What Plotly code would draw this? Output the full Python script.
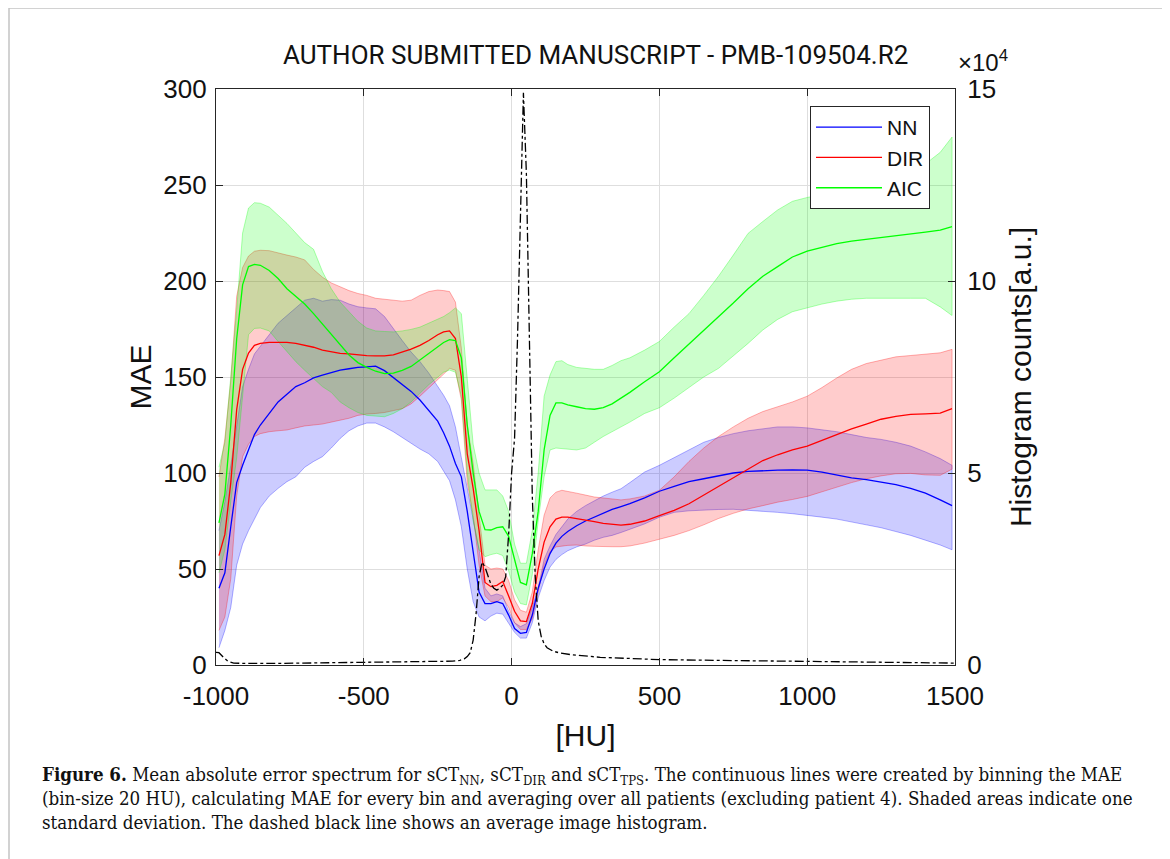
import plotly.graph_objects as go

# ---------------- data ----------------
hu = [-990, -970, -950, -930, -910, -890, -870, -850, -820, -790, -760, -730, -700, -670, -640,
      -610, -580, -550, -520, -490, -460, -430, -400, -370, -340, -310, -280, -250, -230, -210,
      -190, -170, -150, -130, -110, -90, -70, -50, -30, -10, 10, 30, 50, 70, 90, 110, 130, 150,
      170, 190, 220, 250, 280, 310, 340, 370, 400, 450, 500, 550, 600, 650, 700, 750, 800, 850,
      900, 950, 1000, 1050, 1100, 1150, 1200, 1250, 1300, 1350, 1400, 1450, 1490]

nn_mean = [40, 48, 72, 95, 104, 112, 120, 125, 131, 137, 141, 145, 147, 149.5, 151,
           152.5, 153.6, 154.3, 155, 155.3, 155.7, 153.3, 149.8, 146, 142.5, 138, 132.5, 127, 121, 114,
           105, 98, 80, 58, 38, 32, 32, 33, 32, 26, 19, 16.5, 17, 26, 40, 50, 58, 63.5,
           67, 69.5, 72.5, 75, 77, 79, 81, 82.5, 84, 87, 90.5, 93, 95.5, 97, 98.5, 100, 100.8, 101.3,
           101.5, 101.6, 101.5, 100.5, 98.8, 97.5, 96.5, 95.3, 94, 92, 89.5, 86, 83]
nn_upper = [70, 85, 104, 125, 145, 154, 162, 166, 172, 178, 182, 186, 190, 191, 189.5,
            190.3, 190, 188, 186.6, 186, 185.5, 181.5, 175, 169, 163, 158, 152, 145, 140.5, 135,
            124, 108, 92, 78, 60, 40, 36, 37, 36, 28, 22, 20, 21.5, 30, 40, 55, 62, 68,
            72, 76, 80, 83, 85.5, 88, 90, 91.8, 95, 100.5, 104, 108, 112, 116, 118.5, 120.5, 122, 123,
            124, 124, 123.5, 122.5, 121.5, 120, 118.5, 117.5, 116, 114, 111, 107.5, 104]
nn_lower = [9, 18, 30, 52, 63, 70, 76, 82, 88, 92, 95.5, 98, 103, 106, 108.5,
            113, 118, 122, 124.5, 126, 126, 124, 121.5, 118.5, 115.5, 112.5, 110, 106, 101, 96,
            86, 72, 50, 33, 25, 23, 25.5, 27, 26.5, 22, 17, 14, 14, 22, 35, 44, 51, 55,
            57.5, 59.5, 61.5, 63, 65, 66.5, 67.5, 69, 70.5, 73.5, 77, 79.5, 80.3, 80.7, 81, 81.1, 80.5, 80,
            79.5, 78.8, 78, 77, 76, 74.7, 73, 71.5, 69.5, 67.5, 65, 62.5, 60]

dir_mean = [57, 68, 95, 133, 154, 162.5, 166.5, 167.5, 168, 168, 168, 167.5, 166.5, 165.5, 164,
            163, 162.3, 162, 161.5, 161.1, 161, 161, 161.5, 162.8, 164.5, 166.5, 169, 172, 173.5, 174,
            170, 150, 110, 92, 70, 43, 40.8, 41.5, 43.5, 36, 28, 23, 22.6, 32, 50, 64, 72, 76,
            77, 77, 76.3, 75.5, 74.7, 73.8, 73.3, 72.9, 73.3, 75, 77.8, 80.5, 84, 88.5, 93, 97.5, 102, 106.5,
            109.5, 112, 114, 117, 120, 123, 125.5, 128, 129.5, 130.5, 130.8, 131.2, 133.5]
dir_upper = [98, 118, 148, 192, 207, 213, 215.5, 216, 215.8, 214.5, 213.5, 212.5, 211, 206, 202,
             199, 197, 195, 193.5, 192.5, 191, 190.5, 190, 189.5, 190, 192.5, 194.5, 195.3, 195, 194.5,
             189, 165, 125, 105, 78, 52, 50, 50.5, 50, 44, 34, 28.5, 27.5, 38, 60, 78, 87, 90,
             91, 90.5, 89.5, 88.5, 87.5, 87, 86.5, 86, 86.5, 88, 91, 98, 106, 113, 119, 124, 128.5, 132,
             134.5, 137, 140, 144.5, 149.5, 154, 157, 158.8, 160.5, 161.2, 162, 162.6, 164.4]
dir_lower = [18, 25, 45, 88, 108.5, 115, 119, 120.5, 121.5, 122, 122.4, 123.5, 124.5, 125, 125.5,
             126.5, 127.5, 128.5, 130, 130.7, 131, 131.5, 132.5, 133.5, 136, 140, 144, 148.5, 151.5, 154.5,
             153.5, 138, 95, 78, 52, 36, 33, 33, 35, 30, 22, 18.5, 18.5, 24, 38, 52, 59, 61.5,
             62, 62.3, 62.5, 62, 61.8, 61.6, 61.6, 61.6, 62, 63.5, 65.5, 67.5, 70, 73, 76.3, 79, 81.3, 83,
             84.8, 86.2, 87.8, 90, 92.5, 95, 97, 98.5, 99.6, 99.8, 99, 98.8, 102]

aic_mean = [74, 89, 125, 170, 198, 207.5, 208.7, 208.2, 205.5, 201.3, 196, 192, 188, 183, 177.5,
            172, 166.5, 161.5, 157.5, 155, 153, 151.8, 152, 153.5, 155.5, 159, 162.5, 166, 168, 169.5,
            169, 160, 125, 100, 80, 70.5, 70.3, 71.5, 72, 67, 55, 43, 41.7, 58, 80, 112, 130, 136.5,
            136.5, 135.5, 134.5, 133.5, 133.2, 134, 136, 139, 142, 147.5, 152.7, 160, 167, 174, 181, 188.5, 196, 202.5,
            207.5, 212.5, 215.5, 217.7, 219.5, 220.8, 221.7, 222.6, 223.5, 224.3, 225.5, 226.5, 228.3]
aic_upper = [103, 116, 150, 185, 225, 238, 240.8, 240.5, 238.5, 234.5, 230, 225, 220, 216.5, 205,
             196, 189, 184, 179, 175.5, 174, 173.7, 173.5, 174, 174.8, 176, 178, 180, 181.5, 183.5,
             186, 183, 150, 115, 100, 91.2, 91.2, 91.2, 88, 80, 63, 53, 53, 70, 100, 140, 151, 158,
             158.5, 156.5, 155, 154.5, 154, 154, 156, 158.5, 160, 164, 168.5, 176, 183, 192.5, 202.5, 213.5, 224.8, 231,
             237, 241.5, 243.5, 245, 245.7, 246.5, 248, 250, 252.5, 256, 261, 267, 275]
aic_lower = [48, 60, 85, 108, 140, 172, 175.3, 175.5, 174, 168.5, 163, 158, 153.5, 149, 145,
             142, 137, 134, 131.5, 130, 129.5, 129.3, 131, 133.5, 137, 141.5, 146, 150, 152.5, 153.6,
             152.5, 140, 100, 75, 60, 56.4, 57.5, 58.2, 57, 49, 38, 32, 31.3, 47, 75, 98, 112, 113,
             113, 112.5, 112, 113, 116, 119, 121.5, 124, 126.5, 131, 134, 139, 144.5, 150, 154.5, 161, 167.5, 174.5,
             180, 184, 186, 188, 189.5, 190.5, 191, 191, 191, 191, 191, 186.5, 182]

hist_hu = [-1000, -990, -975, -960, -940, -900, -800, -700, -600, -500, -400, -300, -250, -200,
           -175, -160, -150, -140, -130, -120, -110, -100, -90, -80, -70, -60, -50, -40, -30, -20,
           -10, 0, 10, 20, 30, 40, 50, 60, 70, 80, 90, 100, 110, 120, 140, 160, 200, 300, 400, 500,
           700, 1000, 1300, 1500]
hist_counts = [3300, 3200, 2000, 1000, 500, 400, 400, 500, 500, 600, 700, 800, 900, 1000,
               1200, 1600, 2200, 3200, 6500, 13500, 23000, 26800, 25500, 23500, 21000, 20000, 19500, 20000, 20800, 23000,
               34000, 50000, 59000, 85000, 115000, 149000, 128000, 80000, 44000, 23000, 11500, 7500, 5500, 4500, 3600, 3200, 2700, 2000, 1700, 1400,
               1200, 1000, 700, 500]

x_ticks = [-1000, -500, 0, 500, 1000, 1500]
x_tick_labels = ["-1000", "-500", "0", "500", "1000", "1500"]
y_ticks = [0, 50, 100, 150, 200, 250, 300]
y2_ticks = [0, 50000, 100000, 150000]
y2_tick_labels = ["0", "5", "10", "15"]

caption_lines = [
    "<b>Figure 6.</b> Mean absolute error spectrum for sCT<sub>NN</sub>, sCT<sub>DIR</sub> and sCT<sub>TPS</sub>. "
    "The continuous lines were created by binning the MAE",
    "(bin-size 20 HU), calculating MAE for every bin and averaging over all patients (excluding patient 4). "
    "Shaded areas indicate one",
    "standard deviation. The dashed black line shows an average image histogram.",
]

series = [
    ("NN", nn_mean, nn_upper, nn_lower, (0, 0, 255)),
    ("DIR", dir_mean, dir_upper, dir_lower, (255, 0, 0)),
    ("AIC", aic_mean, aic_upper, aic_lower, (0, 255, 0)),
]

fig = go.Figure()

for name, mean, up, lo, (r, g, b) in series:
    fig.add_trace(go.Scatter(
        x=hu + hu[::-1], y=up + lo[::-1], fill="toself",
        fillcolor=f"rgba({r},{g},{b},0.2)",
        line=dict(color=f"rgba({r},{g},{b},0.3)", width=1),
        mode="lines", showlegend=False, hoverinfo="skip"))

for name, mean, up, lo, (r, g, b) in series:
    fig.add_trace(go.Scatter(
        x=hu, y=mean, mode="lines", name=name,
        line=dict(color=f"rgb({r},{g},{b})", width=1.3)))

fig.add_trace(go.Scatter(
    x=hist_hu, y=hist_counts, mode="lines", yaxis="y2", showlegend=False,
    line=dict(color="black", width=1.3, dash="dashdot")))

axis_col = "#262626"
grid_col = "#dedede"
tfont = dict(family="Liberation Sans, Arial, sans-serif", size=26, color="#111111")
title_font = dict(family="Liberation Sans, Arial, sans-serif", size=30, color="#111111")

# page body has an 8px margin: plot area targeted at x 216..955, y 89..665 on screen
PL, PT, PW, PH = 216, 89, 739, 576
OFF = 8
fig_w, fig_h = 1162, 851
ml, mt = PL - OFF, PT - OFF
mr, mb = fig_w - ml - PW, fig_h - mt - PH


def px(xs):
    return (xs - PL) / PW


def py(ys):
    return (PT + PH - ys) / PH


fig.update_layout(
    width=fig_w, height=fig_h,
    margin=dict(l=ml, r=mr, t=mt, b=mb),
    paper_bgcolor="white", plot_bgcolor="white",
    xaxis=dict(range=[-1000, 1500], tickvals=x_ticks, ticktext=x_tick_labels,
               ticks="inside", ticklen=7, tickcolor=axis_col, showline=True,
               linecolor=axis_col, linewidth=1.2, mirror="ticks", showgrid=True,
               gridcolor=grid_col, zeroline=False, tickfont=tfont,
               ticklabelstandoff=8,
               title=dict(text="[HU]", font=title_font, standoff=14)),
    yaxis=dict(range=[0, 300], tickvals=y_ticks, ticks="inside", ticklen=7,
               tickcolor=axis_col, showline=True, linecolor=axis_col, linewidth=1.2,
               showgrid=True, gridcolor=grid_col, zeroline=False, tickfont=tfont,
               ticklabelstandoff=3,
               title=dict(text="MAE", font=title_font, standoff=2)),
    yaxis2=dict(range=[0, 150000], overlaying="y", side="right", tickvals=y2_ticks,
                ticktext=y2_tick_labels, ticks="inside", ticklen=7, tickcolor=axis_col,
                showline=True, linecolor=axis_col, linewidth=1.2, showgrid=False,
                zeroline=False, tickfont=tfont, ticklabelstandoff=6,
                title=dict(text="Histogram counts[a.u.]", font=title_font, standoff=14)),
    legend=dict(x=px(810), y=py(106), xanchor="left", yanchor="top", bgcolor="white",
                bordercolor=axis_col, borderwidth=1, itemwidth=66,
                font=dict(family="Liberation Sans, Arial, sans-serif", size=21, color="#111111"),
                tracegroupgap=0),
    showlegend=True,
)

# frame around the figure
fig.add_shape(type="rect", xref="paper", yref="paper",
              x0=px(9), x1=px(1163), y0=py(880), y1=py(8),
              line=dict(color="#c4c4c4", width=1.5), layer="below")

fig.add_annotation(xref="paper", yref="paper", x=px(595), y=py(55),
                   text="AUTHOR SUBMITTED MANUSCRIPT - PMB-109504.R2", showarrow=False,
                   xanchor="center", yanchor="middle",
                   font=dict(family="Liberation Sans Narrow, Roboto, sans-serif", size=26, color="#111111"))
fig.add_annotation(xref="paper", yref="paper", x=px(956), y=py(61),
                   text="×10<sup>4</sup>", showarrow=False, xanchor="left", yanchor="middle",
                   font=dict(family="Liberation Sans, Arial, sans-serif", size=24, color="#111111"))

# caption as one block (line spacing 1.3 em ≈ 23-24 px)
fig.add_annotation(xref="paper", yref="paper", x=px(40), y=py(798),
                   text="<br>".join(caption_lines), showarrow=False,
                   xanchor="left", yanchor="middle", align="left",
                   font=dict(family="DejaVu Serif Condensed, DejaVu Serif, serif", size=18.6, color="#111111"))

fig.write_html("out.html")
